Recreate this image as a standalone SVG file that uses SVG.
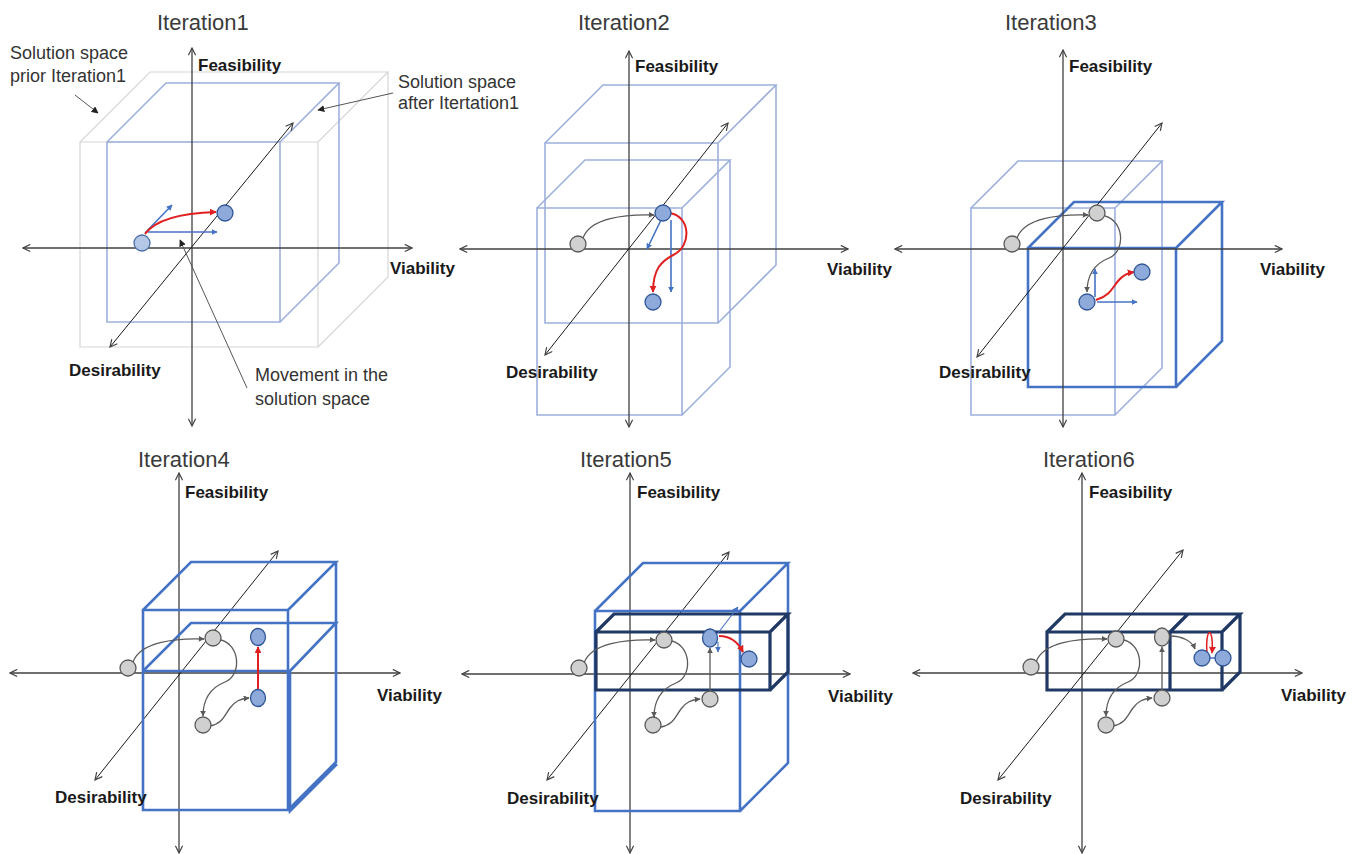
<svg xmlns="http://www.w3.org/2000/svg" width="1359" height="854" viewBox="0 0 1359 854">
<defs>
<style>
.bg{fill:#ffffff}
.title{font-family:"Liberation Sans",Arial,sans-serif;font-size:22px;fill:#3a3a3a}
.lab{font-family:"Liberation Sans",Arial,sans-serif;font-size:17px;font-weight:bold;fill:#1a1a1a}
.ann{font-family:"Liberation Sans",Arial,sans-serif;font-size:18px;fill:#333333}
.ax{fill:none;stroke:#404040;stroke-width:1.3;marker-start:url(#ah);marker-end:url(#ah)}
.dg{fill:none;stroke:#1a1a1a;stroke-width:1;marker-start:url(#ah);marker-end:url(#ah)}
.prior{fill:none;stroke:#d6d6d6;stroke-width:1.2}
.lb{fill:none;stroke:#9db0dc;stroke-width:1.6}
.mb{fill:none;stroke:#4472c4;stroke-width:2.6}
.nv{fill:none;stroke:#1f3864;stroke-width:3.2}
.cg{fill:none;stroke:#5a5a5a;stroke-width:1.3;marker-end:url(#ag)}
.cr{fill:none;stroke:#e02020;stroke-width:2;marker-end:url(#ar)}
.crl{fill:none;stroke:#e02020;stroke-width:1.5;marker-end:url(#ar)}
.cb{fill:none;stroke:#4472c4;stroke-width:1.6;marker-end:url(#ab)}
.ptr{fill:none;stroke:#555555;stroke-width:1;marker-end:url(#ak)}
.nb{fill:#8eaadb;stroke:#2f5597;stroke-width:1.3}
.ng{fill:#d0d0d0;stroke:#5a5a5a;stroke-width:1.3}
.nl{fill:#b4c7e7;stroke:#4a6fa5;stroke-width:1.3}
</style>
<marker id="ah" viewBox="0 0 10 10" refX="9" refY="5" markerWidth="9" markerHeight="9" markerUnits="userSpaceOnUse" orient="auto-start-reverse"><path d="M1,1 L9,5 L1,9" fill="none" stroke="#404040" stroke-width="1.3"/></marker>
<marker id="ag" viewBox="0 0 10 10" refX="9" refY="5" markerWidth="6" markerHeight="6" markerUnits="userSpaceOnUse" orient="auto"><path d="M0,0 L10,5 L0,10 Z" fill="#5a5a5a"/></marker>
<marker id="ar" viewBox="0 0 10 10" refX="9" refY="5" markerWidth="7" markerHeight="7" markerUnits="userSpaceOnUse" orient="auto"><path d="M0,0 L10,5 L0,10 Z" fill="#e02020"/></marker>
<marker id="ab" viewBox="0 0 10 10" refX="9" refY="5" markerWidth="6" markerHeight="6" markerUnits="userSpaceOnUse" orient="auto"><path d="M0,0 L10,5 L0,10 Z" fill="#4472c4"/></marker>
<marker id="ak" viewBox="0 0 10 10" refX="9" refY="5" markerWidth="7" markerHeight="7" markerUnits="userSpaceOnUse" orient="auto"><path d="M0,0 L10,5 L0,10 Z" fill="#222222"/></marker>
</defs>
<rect class="bg" x="0" y="0" width="1359" height="854"/>

<g id="titles">
<text class="title" x="157" y="30">Iteration1</text>
<text class="title" x="578" y="30">Iteration2</text>
<text class="title" x="1005" y="30">Iteration3</text>
<text class="title" x="138" y="467">Iteration4</text>
<text class="title" x="580" y="467">Iteration5</text>
<text class="title" x="1043" y="467">Iteration6</text>
</g>

<!-- Panel 1 -->
<g id="panel1" transform="translate(192,248)">
<g id="p1-cubes">
<path class="prior" d="M-112,-106 H126 V99 H-112 Z M-112,-106 L-42,-176 H196 L126,-106 M196,-176 V29 L126,99"/>
<path class="lb" d="M-85,-106 H88 V74 H-85 Z M-85,-106 L-26,-165 H147 L88,-106 M147,-165 V15 L88,74"/>
</g>
<g id="p1-axes">
<path class="ax" d="M0,-200 V178"/>
<path class="ax" d="M-169,0 H220"/>
<path class="dg" d="M-82,99 L101,-125"/>
</g>
<g id="p1-connectors">
<path class="cb" d="M-47,-15 L-20,-43"/>
<path class="cb" d="M-44,-16 L25,-16"/>
<path class="cr" d="M-47,-14 C-36,-29 -10,-35 24,-36"/>
</g>
<g id="p1-n1"><circle class="nl" cx="-50" cy="-5" r="8"/></g>
<g id="p1-n2"><circle class="nb" cx="33" cy="-35" r="8"/></g>
<text class="lab" x="6" y="-177">Feasibility</text>
<text class="lab" x="198" y="26">Viability</text>
<text class="lab" x="-123" y="128">Desirability</text>
</g>
<g id="p1-annotations">
<text class="ann" x="10" y="59">Solution space</text>
<text class="ann" x="10" y="82">prior Iteration1</text>
<text class="ann" x="398" y="88">Solution space</text>
<text class="ann" x="398" y="109">after Itertation1</text>
<text class="ann" x="255" y="381">Movement in the</text>
<text class="ann" x="255" y="405">solution space</text>
<path class="ptr" d="M75,95 L98,113"/>
<path class="ptr" d="M393,93 L318,110"/>
<path class="ptr" d="M247,388 L180,240"/>
</g>

<!-- Panel 2 -->
<g id="panel2" transform="translate(629,249)">
<g id="p2-cubes">
<path class="lb" d="M-84,-106 H89 V74 H-84 Z M-84,-106 L-26,-164 H147 L89,-106 M147,-164 V16 L89,74"/>
<path class="lb" d="M-92,-41 H53 V166 H-92 Z M-92,-41 L-44,-89 H101 L53,-41 M101,-89 V118 L53,166"/>
</g>
<g id="p2-axes">
<path class="ax" d="M0,-198 V178"/>
<path class="ax" d="M-169,0 H219"/>
<path class="dg" d="M-84,106 L99,-126"/>
</g>
<g id="p2-connectors">
<path class="cg" d="M-46,-11 C-39,-31 -4,-35 25,-34"/>
<path class="cb" d="M32,-29 L18,0"/>
<path class="cb" d="M42,-29 L42,43"/>
<path class="cr" d="M41,-36 C62,-32 62,-4 46,5 C32,12 24,20 24,43"/>
</g>
<g id="p2-n1"><circle class="ng" cx="-51" cy="-5" r="8"/></g>
<g id="p2-n2"><circle class="nb" cx="34" cy="-36" r="8"/></g>
<g id="p2-n3"><circle class="nb" cx="24" cy="53" r="8"/></g>
<text class="lab" x="6" y="-177">Feasibility</text>
<text class="lab" x="198" y="26">Viability</text>
<text class="lab" x="-123" y="129">Desirability</text>
</g>

<!-- Panel 3 -->
<g id="panel3" transform="translate(1063,249)">
<g id="p3-cubes">
<path class="lb" d="M-92,-41 H52 V166 H-92 Z M-92,-41 L-45,-88 H99 L52,-41 M99,-88 V119 L52,166"/>
<path class="mb" d="M-35,-1 H113 V138 H-35 Z M-35,-1 L11,-47 H159 L113,-1 M159,-47 V92 L113,138"/>
</g>
<g id="p3-axes">
<path class="ax" d="M0,-199 V178"/>
<path class="ax" d="M-168,0 H219"/>
<path class="dg" d="M-86,108 L99,-126"/>
</g>
<g id="p3-connectors">
<path class="cg" d="M-46,-11 C-39,-31 -4,-35 25,-34"/>
<path class="cg" d="M42,-33 C61,-28 63,2 46,9 C31,15 24,27 24,43"/>
<path class="cb" d="M32,48 L32,20"/>
<path class="cb" d="M34,53 L74,53"/>
<path class="cr" d="M33,51 C47,47 50,38 55,32 C60,26 64,24 71,23"/>
</g>
<g id="p3-n1"><circle class="ng" cx="-51" cy="-5" r="8"/></g>
<g id="p3-n2"><circle class="ng" cx="34" cy="-36" r="8"/></g>
<g id="p3-n3"><circle class="nb" cx="24" cy="53" r="8"/></g>
<g id="p3-n4"><circle class="nb" cx="79" cy="23" r="8"/></g>
<text class="lab" x="6" y="-177">Feasibility</text>
<text class="lab" x="197" y="26">Viability</text>
<text class="lab" x="-124" y="129">Desirability</text>
</g>

<!-- Panel 4 -->
<g id="panel4" transform="translate(179,673)">
<g id="p4-axes">
<path class="ax" d="M0,-200 V180"/>
<path class="ax" d="M-169,0 H221"/>
<path class="dg" d="M-84,107 L99,-122"/>
</g>
<g id="p4-cubes">
<path class="mb" d="M-36,-63 H109 V137 H-36 Z M-36,-63 L12,-111 H157 L109,-63 M157,-111 V89 L109,137"/>
<path class="mb" d="M-36,-2 L12,-50 H157 L111,-2 M-36,-2 H111 M111,-2 V138 L158,91"/>
</g>
<g id="p4-connectors">
<path class="cg" d="M-46,-11 C-39,-31 -4,-35 25,-34"/>
<path class="cg" d="M42,-33 C61,-28 63,2 46,9 C31,15 24,27 24,43"/>
<path class="cg" d="M31,53 C43,51 45,43 51,35 C56,28 61,26 70,25"/>
<path class="cr" d="M79,16 L79,-26"/>
</g>
<g id="p4-n1"><circle class="ng" cx="-51" cy="-5" r="8"/></g>
<g id="p4-n2"><circle class="ng" cx="34" cy="-35" r="8"/></g>
<g id="p4-n3"><circle class="ng" cx="24" cy="52" r="8"/></g>
<g id="p4-n4"><ellipse class="nb" cx="79" cy="25" rx="7.5" ry="8.5"/></g>
<g id="p4-n5"><ellipse class="nb" cx="79" cy="-36" rx="7.5" ry="8.5"/></g>
<text class="lab" x="6" y="-175">Feasibility</text>
<text class="lab" x="198" y="28">Viability</text>
<text class="lab" x="-124" y="130">Desirability</text>
</g>

<!-- Panel 5 -->
<g id="panel5" transform="translate(630,674)">
<g id="p5-axes">
<path class="ax" d="M0,-201 V179"/>
<path class="ax" d="M-168,0 H220"/>
<path class="dg" d="M-83,106 L99,-122"/>
</g>
<g id="p5-cubes">
<path class="mb" d="M-35,-63 H110 V137 H-35 Z M-35,-63 L13,-111 H158 L110,-63 M158,-111 V89 L110,137"/>
<path class="nv" d="M-34,-42 H140 V16 H-34 Z M-34,-42 L-16,-60 H158 L140,-42 M158,-60 V-2 L140,16"/>
</g>
<g id="p5-connectors">
<path class="cg" d="M-46,-11 C-39,-31 -4,-35 25,-34"/>
<path class="cg" d="M42,-33 C61,-28 63,2 46,9 C31,15 24,27 24,43"/>
<path class="cg" d="M31,53 C43,51 45,43 51,35 C56,28 61,26 70,25"/>
<path class="cg" d="M80,17 L80,-26"/>
<path class="cb" d="M88,-41 L108,-67" style="stroke-width:1.1"/>
<path class="cb" d="M88,-32 L88,-22" style="stroke-width:1.1"/>
<path class="cr" d="M89,-38 C100,-38 108,-32 113,-22"/>
</g>
<g id="p5-n1"><circle class="ng" cx="-51" cy="-6" r="8"/></g>
<g id="p5-n2"><circle class="ng" cx="34" cy="-34" r="8"/></g>
<g id="p5-n3"><circle class="ng" cx="23" cy="51" r="8"/></g>
<g id="p5-n4"><circle class="ng" cx="80" cy="25" r="8"/></g>
<g id="p5-n5"><ellipse class="nb" cx="80" cy="-36" rx="7.5" ry="9"/></g>
<g id="p5-n6"><circle class="nb" cx="119" cy="-15" r="8"/></g>
<text class="lab" x="7" y="-176">Feasibility</text>
<text class="lab" x="198" y="28">Viability</text>
<text class="lab" x="-123" y="130">Desirability</text>
</g>

<!-- Panel 6 -->
<g id="panel6" transform="translate(1082,673)">
<g id="p6-axes">
<path class="ax" d="M0,-200 V180"/>
<path class="ax" d="M-169,0 H220"/>
<path class="dg" d="M-84,107 L101,-123"/>
</g>
<g id="p6-cubes">
<path class="nv" d="M-35,-41 H140 V17 H-35 Z M-35,-41 L-17,-59 H158 L140,-41 M158,-59 V-1 L140,17 M88,-41 V17 M88,-41 L106,-59"/>
</g>
<g id="p6-connectors">
<path class="cg" d="M-46,-11 C-39,-31 -4,-35 25,-34"/>
<path class="cg" d="M42,-33 C61,-28 63,2 46,9 C31,15 24,27 24,43"/>
<path class="cg" d="M31,53 C43,51 45,43 51,35 C56,28 61,26 70,25"/>
<path class="cg" d="M80,17 L80,-26"/>
<path class="cg" d="M88,-37 C100,-37 110,-32 113,-24"/>
<path class="crl" d="M125,-20 C123,-47 132,-47 130,-20"/>
<path d="M127,-15 L135,-15" stroke="#4472c4" stroke-width="1.5"/>
</g>
<g id="p6-n1"><circle class="ng" cx="-51" cy="-6" r="8"/></g>
<g id="p6-n2"><circle class="ng" cx="34" cy="-34" r="8"/></g>
<g id="p6-n3"><circle class="ng" cx="24" cy="52" r="8"/></g>
<g id="p6-n4"><circle class="ng" cx="80" cy="25" r="8"/></g>
<g id="p6-n5"><ellipse class="ng" cx="80" cy="-36" rx="7.5" ry="9"/></g>
<g id="p6-n6"><circle class="nb" cx="120" cy="-15" r="8"/></g>
<g id="p6-n7"><circle class="nb" cx="141" cy="-15" r="8"/></g>
<text class="lab" x="7" y="-175">Feasibility</text>
<text class="lab" x="199" y="28">Viability</text>
<text class="lab" x="-122" y="131">Desirability</text>
</g>
</svg>
